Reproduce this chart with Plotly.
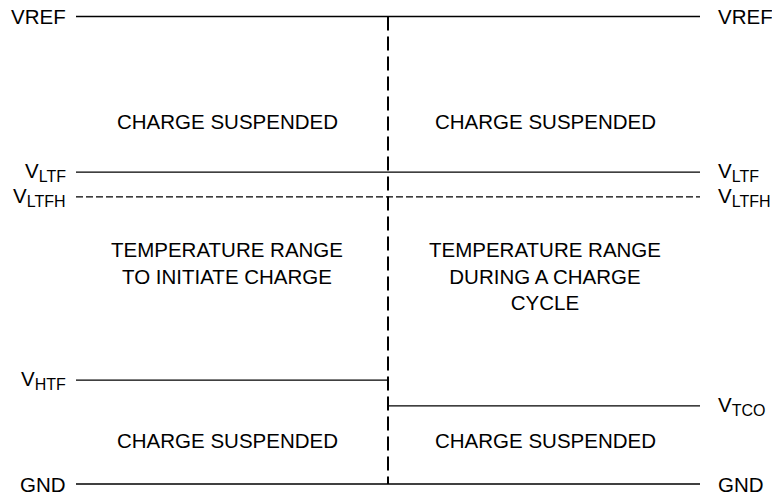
import plotly.graph_objects as go

# ---- data (levels as % of VREF, GND = 0) ----
SUB = "<sub><span style='font-size:16px'>{}</span></sub>"
level_names_left = ["VREF", "V" + SUB.format("LTF"), "V" + SUB.format("LTFH"), "V" + SUB.format("HTF"), "GND"]
level_values_left = [100.0, 66.7, 61.4, 22.2, 0.0]
level_names_right = ["VREF", "V" + SUB.format("LTF"), "V" + SUB.format("LTFH"), "V" + SUB.format("TCO"), "GND"]
level_values_right = [100.0, 66.7, 61.4, 16.7, 0.0]
left_dashed = [False, False, True, False, False]
right_dashed = [False, False, True, False, False]

region_text_left = ["CHARGE SUSPENDED", "TEMPERATURE RANGE<br>TO INITIATE CHARGE", "CHARGE SUSPENDED"]
region_text_right = ["CHARGE SUSPENDED", "TEMPERATURE RANGE<br>DURING A CHARGE<br>CYCLE", "CHARGE SUSPENDED"]

# ---- layout constants ----
W, H = 772, 496
FONT = "Liberation Sans, Arial, sans-serif"
FS = 20.5
DIV = 0.5  # divider position (left half 0..0.5, right half 0.5..1)

fig = go.Figure()

def hline(x0, x1, y, dashed):
    fig.add_trace(go.Scatter(
        x=[x0, x1], y=[y, y], mode="lines", hoverinfo="skip",
        line=dict(color="black", width=1.3, dash="7px,3px" if dashed else "solid")))

# left / right levels (shared levels drawn as full lines)
for i, (vl, vr) in enumerate(zip(level_values_left, level_values_right)):
    if vl == vr:
        hline(0, 1, vl, left_dashed[i])
    else:
        hline(0, DIV, vl, left_dashed[i])
        hline(DIV, 1, vr, right_dashed[i])

# vertical divider
fig.add_trace(go.Scatter(
    x=[DIV, DIV], y=[max(level_values_left), min(level_values_left)], mode="lines",
    hoverinfo="skip", line=dict(color="black", width=2, dash="14px,6px")))

annotations = []
for name, v in zip(level_names_left, level_values_left):
    annotations.append(dict(x=-0.0128, y=v, text=name, xanchor="right", yanchor="middle",
                            showarrow=False, font=dict(family=FONT, size=FS, color="black")))
for name, v in zip(level_names_right, level_values_right):
    annotations.append(dict(x=1.0256, y=v, text=name, xanchor="left", yanchor="middle",
                            showarrow=False, font=dict(family=FONT, size=FS, color="black")))

region_y = [77.6, None, 9.4]
for side_x, texts in ((0.242, region_text_left), (0.7516, region_text_right)):
    for j, t in enumerate(texts):
        if j == 1:
            annotations.append(dict(x=side_x, y=(484 - 236) / 4.675, text=t, xanchor="center",
                                    yanchor="top", showarrow=False, align="center",
                                    font=dict(family=FONT, size=FS, color="black")))
        else:
            annotations.append(dict(x=side_x, y=region_y[j], text=t, xanchor="center",
                                    yanchor="middle", showarrow=False,
                                    font=dict(family=FONT, size=FS, color="black")))

fig.update_layout(
    width=W, height=H,
    margin=dict(l=0, r=0, t=0, b=0),
    paper_bgcolor="white", plot_bgcolor="white",
    showlegend=False,
    xaxis=dict(visible=False, range=[-76 / 624, 696 / 624], fixedrange=True),
    yaxis=dict(visible=False, range=[-12 / 4.675, 100 + 16.5 / 4.675], fixedrange=True),
    annotations=annotations,
)

fig.write_html("out.html", config={"displayModeBar": False},
               post_script="document.body.style.margin='0';document.body.style.overflow='hidden';")
